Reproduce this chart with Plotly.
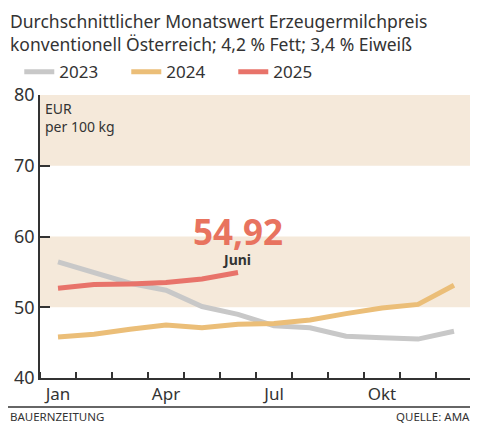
import plotly.graph_objects as go

months = ["Jan", "Feb", "Mär", "Apr", "Mai", "Jun", "Jul", "Aug", "Sep", "Okt", "Nov", "Dez"]
v2023 = [56.4, 54.9, 53.4, 52.4, 50.1, 49.0, 47.4, 47.1, 45.9, 45.7, 45.5, 46.6]
v2024 = [45.8, 46.2, 46.9, 47.5, 47.1, 47.6, 47.7, 48.2, 49.1, 49.9, 50.4, 53.1]
v2025 = [52.7, 53.2, 53.3, 53.5, 54.0, 54.92]
series_names = ["2023", "2024", "2025"]
series_colors = ["#C8C8C8", "#EBBE78", "#E8736A"]
y_ticks = [40, 50, 60, 70, 80]
x_labels = ["Jan", "Apr", "Jul", "Okt"]
bands = [(50, 60), (70, 80)]

FONT = "Noto Sans"
TXT = "#333333"

# the page adds an 8 px body margin, so the figure is 8 px smaller and offset
W, H = 470, 416
L, R, T, B = 32, 6, 87, 46
PW, PH = W - L - R, H - T - B

fig = go.Figure()
for name, vals, col in zip(series_names, [v2023, v2024, v2025], series_colors):
    fig.add_trace(go.Scatter(
        x=list(range(len(vals))), y=vals, mode="lines", name=name,
        line=dict(color=col, width=5), hoverinfo="skip"))

for lo, hi in bands:
    fig.add_shape(type="rect", xref="paper", yref="y", x0=0, x1=1, y0=lo, y1=hi,
                  fillcolor="#F5E9DA", line=dict(width=0), layer="below")

tickpos = [months.index(m) for m in x_labels]

fig.update_layout(
    width=W, height=H,
    margin=dict(l=L, r=R, t=T, b=B, autoexpand=False),
    paper_bgcolor="white", plot_bgcolor="white",
    font=dict(family=FONT, color=TXT),
    showlegend=True,
    legend=dict(orientation="h", x=0.024, xref="container", y=0.889, yref="container",
                yanchor="top", xanchor="left", entrywidth=62, entrywidthmode="pixels",
                font=dict(size=17, color=TXT), tracegroupgap=0,
                bgcolor="rgba(0,0,0,0)"),
    xaxis=dict(range=[-0.5, 11.5], tickmode="array", tickvals=tickpos, ticktext=x_labels,
               ticks="", showgrid=False, zeroline=False, showline=True,
               linecolor="#333333", linewidth=1.5,
               tickfont=dict(size=17, color=TXT),
               minor=dict(ticks="inside", tick0=-0.5, dtick=1, ticklen=6,
                          tickcolor="#333333", tickwidth=1.5, showgrid=False)),
    yaxis=dict(range=[40, 80], tickvals=y_ticks, ticks="inside", ticklen=10,
               tickcolor="#333333", tickwidth=1.5, showgrid=False, zeroline=False,
               showline=True, linecolor="#333333", linewidth=1.5,
               tickfont=dict(size=18, color=TXT)),
)

fig.add_annotation(xref="paper", yref="paper", x=0, y=1, xanchor="left", yanchor="top",
                   xshift=-L, yshift=88, align="left", showarrow=False,
                   text="Durchschnittlicher Monatswert Erzeugermilchpreis<br>konventionell Österreich; 4,2 % Fett; 3,4 % Eiweiß",
                   font=dict(size=17.5, color=TXT, family=FONT))
fig.add_annotation(xref="paper", yref="paper", x=0, y=1, xanchor="left", yanchor="top",
                   xshift=3, yshift=-2, align="left", showarrow=False,
                   text="EUR<br>per 100 kg", font=dict(size=14, color=TXT, family=FONT))
fig.add_annotation(x=5, y=v2025[-1], xref="x", yref="y", showarrow=False,
                   text="<b>" + f"{v2025[-1]:.2f}".replace(".", ",") + "</b>",
                   xanchor="center", yanchor="middle", xshift=0, yshift=41,
                   font=dict(size=35, color="#E8735F", family=FONT))
fig.add_annotation(x=5, y=v2025[-1], xref="x", yref="y", showarrow=False,
                   text="<b>Juni</b>", xanchor="center", yanchor="middle",
                   xshift=-2, yshift=13, font=dict(size=14, color=TXT, family=FONT))

fig.add_shape(type="line", xref="paper", yref="paper",
              x0=-L / PW, x1=(W - L) / PW, y0=-29 / PH, y1=-29 / PH,
              line=dict(color="#333333", width=1.5))
fig.add_annotation(xref="paper", yref="paper", x=0, y=0, xanchor="left", yanchor="middle",
                   xshift=-L, yshift=-38, showarrow=False, text="BAUERNZEITUNG",
                   font=dict(size=11.5, color=TXT, family=FONT))
fig.add_annotation(xref="paper", yref="paper", x=1, y=0, xanchor="right", yanchor="middle",
                   xshift=0, yshift=-38, showarrow=False, text="QUELLE: AMA",
                   font=dict(size=11.5, color=TXT, family=FONT))

fig.write_html("out.html")
